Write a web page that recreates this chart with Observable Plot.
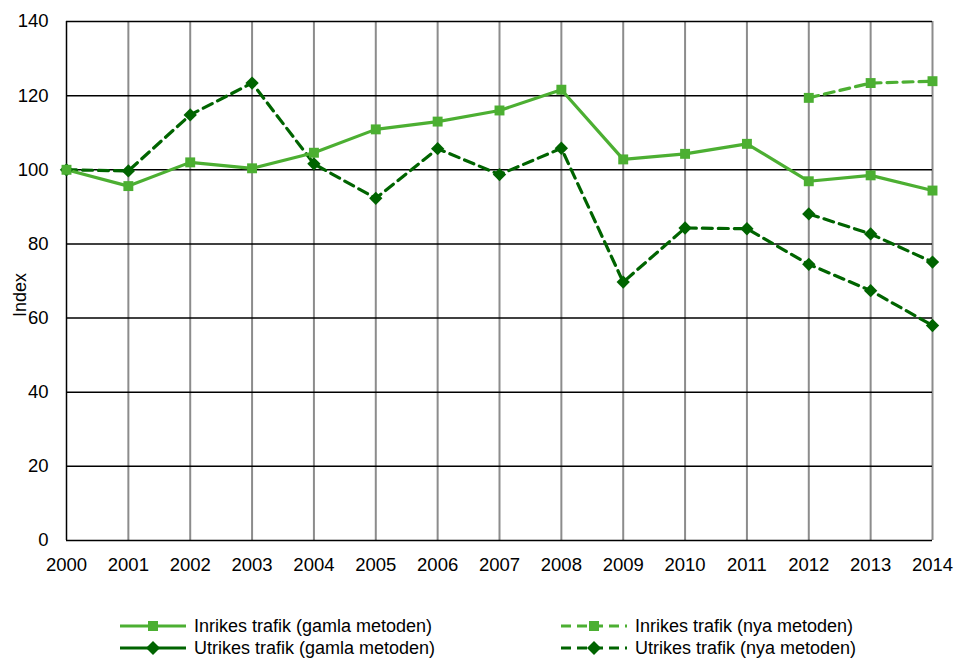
<!DOCTYPE html>
<html>
<head>
<meta charset="utf-8">
<script src="https://cdn.jsdelivr.net/npm/d3@7"></script>
<script src="https://cdn.jsdelivr.net/npm/@observablehq/plot@0.6"></script>
<style>
  body { margin: 0; background: #fff; font-family: "Liberation Sans", Arial, sans-serif; }
  #wrap { position: relative; width: 957px; height: 659px; }
  .leg { position: absolute; display: flex; align-items: center; font-size: 18px; color: #000; white-space: nowrap; }
  .leg svg { margin-right: 8px; }
</style>
</head>
<body>
<div id="wrap"></div>
<script>
const years = [2000, 2001, 2002, 2003, 2004, 2005, 2006, 2007, 2008, 2009, 2010, 2011, 2012, 2013, 2014];
const newYears = [2012, 2013, 2014];
const yTicks = [0, 20, 40, 60, 80, 100, 120, 140];

const inrikesGamla = [100, 95.6, 102.0, 100.4, 104.6, 110.9, 113.0, 116.0, 121.6, 102.8, 104.3, 107.0, 96.9, 98.5, 94.4];
const inrikesNya = [119.4, 123.4, 123.9];
const utrikesGamla = [100, 99.7, 114.8, 123.4, 101.6, 92.3, 105.7, 98.7, 105.8, 69.7, 84.3, 84.1, 74.5, 67.4, 58.0];
const utrikesNya = [88.1, 82.7, 75.1];

const seriesNames = [
  "Inrikes trafik (gamla metoden)",
  "Inrikes trafik (nya metoden)",
  "Utrikes trafik (gamla metoden)",
  "Utrikes trafik (nya metoden)"
];

const LIGHT = "#4caf32";
const DARK = "#006400";

const inG = years.map((x, i) => ({x, y: inrikesGamla[i]}));
const inN = newYears.map((x, i) => ({x, y: inrikesNya[i]}));
const utG = years.map((x, i) => ({x, y: utrikesGamla[i]}));
const utN = newYears.map((x, i) => ({x, y: utrikesNya[i]}));

const chart = Plot.plot({
  width: 957,
  height: 580,
  marginLeft: 66,
  marginRight: 25,
  marginTop: 21,
  marginBottom: 40,
  style: { fontFamily: "'Liberation Sans', Arial, sans-serif", fontSize: "18.5px", color: "#000", background: "#fff" },
  x: { domain: [2000, 2014] },
  y: { domain: [0, 140] },
  marks: [
    Plot.ruleX(years.slice(1), { stroke: "#8c8c8c", strokeWidth: 2 }),
    Plot.ruleY(yTicks, { stroke: "#000", strokeWidth: 1.5 }),
    Plot.ruleX([2000], { stroke: "#000", strokeWidth: 1.5 }),
    Plot.axisX({ ticks: years, tickFormat: d => String(d), tickSize: 0, tickPadding: 17, label: null }),
    Plot.axisY({ ticks: yTicks, tickSize: 0, tickPadding: 18, label: null }),
    Plot.text(["Index"], { frameAnchor: "left", rotate: -90, textAnchor: "start", dx: -46, dy: 36, fontSize: 18 }),
    Plot.line(utG, { x: "x", y: "y", stroke: DARK, strokeWidth: 3.2, strokeDasharray: "10,6" }),
    Plot.line(utN, { x: "x", y: "y", stroke: DARK, strokeWidth: 3.2, strokeDasharray: "10,6" }),
    Plot.line(inG, { x: "x", y: "y", stroke: LIGHT, strokeWidth: 3.2 }),
    Plot.line(inN, { x: "x", y: "y", stroke: LIGHT, strokeWidth: 3.2, strokeDasharray: "10,6" }),
    Plot.dot(utG, { x: "x", y: "y", symbol: "diamond2", r: 6, fill: DARK, stroke: "none" }),
    Plot.dot(utN, { x: "x", y: "y", symbol: "diamond2", r: 6, fill: DARK, stroke: "none" }),
    Plot.dot(inG, { x: "x", y: "y", symbol: "square", r: 5.6, fill: LIGHT, stroke: "none" }),
    Plot.dot(inN, { x: "x", y: "y", symbol: "square", r: 5.6, fill: LIGHT, stroke: "none" })
  ]
});

const wrap = document.getElementById("wrap");
wrap.appendChild(chart);

function swatch(color, dashed, symbol) {
  const w = 66, h = 16;
  let s = `<svg width="${w}" height="${h}" viewBox="0 0 ${w} ${h}">`;
  s += `<line x1="0" y1="8" x2="${w}" y2="8" stroke="${color}" stroke-width="3.2" ${dashed ? 'stroke-dasharray="10,6"' : ''}/>`;
  if (symbol === "square") s += `<rect x="${w/2-5}" y="3" width="10" height="10" fill="${color}"/>`;
  else s += `<path d="M${w/2},1 L${w/2+7},8 L${w/2},15 L${w/2-7},8 Z" fill="${color}"/>`;
  return s + "</svg>";
}

const legendItems = [
  { name: seriesNames[0], color: LIGHT, dashed: false, symbol: "square", left: 120, top: 626 },
  { name: seriesNames[1], color: LIGHT, dashed: true, symbol: "square", left: 561, top: 626 },
  { name: seriesNames[2], color: DARK, dashed: false, symbol: "diamond", left: 120, top: 648 },
  { name: seriesNames[3], color: DARK, dashed: true, symbol: "diamond", left: 561, top: 648 }
];
for (const it of legendItems) {
  const d = document.createElement("div");
  d.className = "leg";
  d.style.left = it.left + "px";
  d.style.top = (it.top - 11) + "px";
  d.style.height = "22px";
  d.innerHTML = swatch(it.color, it.dashed, it.symbol) + `<span>${it.name}</span>`;
  wrap.appendChild(d);
}
</script>
</body>
</html>
